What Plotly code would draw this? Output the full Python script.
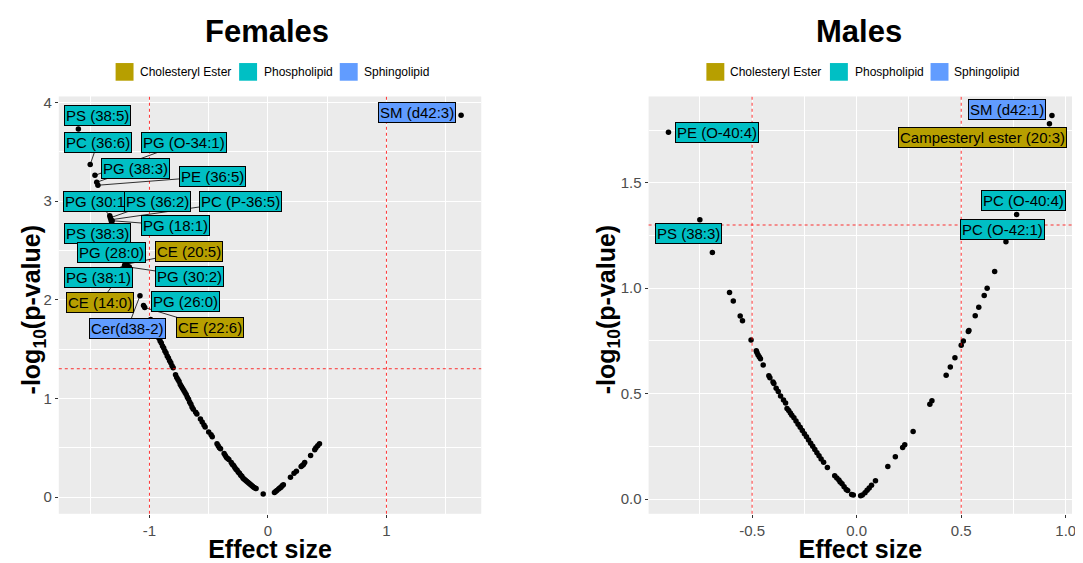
import plotly.graph_objects as go

# ---------------- data ----------------
classes = ["Cholesteryl Ester", "Phospholipid", "Sphingolipid"]
class_colors = ["#B79F00", "#00BFC4", "#619CFF"]

# Females - unlabeled points
fem_x = [-0.99, -0.97, -0.955, -0.94, -0.93, -0.92, -0.91, -0.90, -0.89, -0.88, -0.87, -0.86,
         -0.85, -0.84, -0.83, -0.82, -0.81, -0.80, -0.78, -0.77, -0.76, -0.75, -0.74, -0.73,
         -0.72, -0.71, -0.70, -0.69, -0.68, -0.67, -0.66, -0.65, -0.64, -0.63, -0.61, -0.60,
         -0.57, -0.555, -0.54, -0.53, -0.50, -0.48, -0.47, -0.43, -0.42, -0.41, -0.40, -0.37,
         -0.36, -0.35, -0.34, -0.33, -0.31, -0.30, -0.29, -0.28, -0.27, -0.26, -0.25, -0.24,
         -0.23, -0.22, -0.21, -0.20, -0.19, -0.18, -0.17, -0.16, -0.15, -0.14, -0.13, -0.12,
         -0.11, -0.10, -0.04,
         0.055, 0.065, 0.075, 0.09, 0.10, 0.11, 0.12, 0.13, 0.19, 0.22, 0.24, 0.28, 0.29,
         0.30, 0.31, 0.36, 0.395, 0.405, 0.42, 0.435]
fem_y = [1.80, 1.73, 1.70, 1.67, 1.64, 1.61, 1.58, 1.56, 1.53, 1.51, 1.48, 1.46,
         1.43, 1.41, 1.38, 1.36, 1.33, 1.31, 1.24, 1.21, 1.19, 1.17, 1.14, 1.12,
         1.10, 1.08, 1.06, 1.04, 1.01, 0.99, 0.96, 0.94, 0.91, 0.89, 0.86, 0.84,
         0.79, 0.76, 0.73, 0.71, 0.66, 0.63, 0.61, 0.54, 0.52, 0.50, 0.49, 0.44,
         0.42, 0.40, 0.39, 0.38, 0.35, 0.33, 0.32, 0.30, 0.28, 0.27, 0.25, 0.24,
         0.22, 0.21, 0.19, 0.18, 0.17, 0.16, 0.15, 0.14, 0.13, 0.12, 0.11, 0.10,
         0.09, 0.085, 0.03,
         0.045, 0.055, 0.065, 0.08, 0.09, 0.10, 0.115, 0.125, 0.20, 0.24, 0.26, 0.31, 0.32,
         0.33, 0.35, 0.42, 0.48, 0.50, 0.52, 0.54]

# Females - labeled points
fem_lab_names = ["PS (38:5)", "PC (36:6)", "PG (O-34:1)", "PG (38:3)", "PE (36:5)",
                 "PG (30:1)", "PS (36:2)", "PC (P-36:5)", "PS (38:3)", "PG (18:1)",
                 "PG (28:0)", "CE (20:5)", "PG (38:1)", "PG (30:2)", "CE (14:0)",
                 "PG (26:0)", "CE (22:6)", "Cer(d38-2)", "SM (d42:3)"]
fem_lab_x = [-1.60, -1.50, -1.46, -1.445, -1.435, -1.335, -1.33, -1.325, -1.32, -1.315,
             -1.20, -1.19, -1.21, -1.17, -1.22, -1.05, -1.04, -1.08, 1.63]
fem_lab_y = [3.73, 3.37, 3.26, 3.19, 3.16, 2.85, 2.83, 2.81, 2.79, 2.80,
             2.37, 2.36, 2.35, 2.33, 2.30, 1.94, 1.92, 2.04, 3.87]
fem_lab_class = [1, 1, 1, 1, 1, 1, 1, 1, 1, 1, 1, 0, 1, 1, 0, 1, 0, 2, 2]

# Males - unlabeled points
mal_x = [-0.69, -0.608, -0.59, -0.557, -0.546, -0.505, -0.48, -0.477, -0.472, -0.466, -0.46,
         -0.447, -0.42, -0.415, -0.40, -0.396, -0.385, -0.375, -0.364, -0.35, -0.34, -0.333,
         -0.325, -0.317, -0.31, -0.30, -0.29, -0.28, -0.27, -0.26, -0.25, -0.24, -0.23, -0.22,
         -0.21, -0.20, -0.19, -0.18, -0.17, -0.158, -0.14, -0.105, -0.095, -0.085, -0.079,
         -0.07, -0.06, -0.05, -0.043, -0.024, -0.016,
         0.019, 0.027, 0.04, 0.05, 0.06, 0.071, 0.09, 0.149, 0.185, 0.22, 0.23, 0.27, 0.35,
         0.36, 0.428, 0.448, 0.47, 0.50, 0.51, 0.534, 0.537, 0.567, 0.584, 0.61, 0.624, 0.66]
mal_y = [1.17, 0.98, 0.94, 0.868, 0.846, 0.755, 0.704, 0.695, 0.685, 0.675, 0.665,
         0.636, 0.585, 0.575, 0.555, 0.548, 0.525, 0.51, 0.489, 0.47, 0.455, 0.43,
         0.42, 0.408, 0.397, 0.385, 0.37, 0.355, 0.34, 0.325, 0.31, 0.295, 0.28, 0.265,
         0.25, 0.235, 0.22, 0.205, 0.19, 0.175, 0.15, 0.11, 0.10, 0.09, 0.081,
         0.072, 0.058, 0.045, 0.04, 0.022, 0.019,
         0.015, 0.019, 0.03, 0.042, 0.052, 0.065, 0.087, 0.154, 0.20, 0.245, 0.257, 0.32, 0.45,
         0.466, 0.587, 0.626, 0.67, 0.73, 0.75, 0.795, 0.80, 0.87, 0.91, 0.966, 1.00, 1.08]

# Males - labeled points
mal_lab_names = ["PE (O-40:4)", "PS (38:3)", "SM (d42:1)", "Campesteryl ester (20:3)",
                 "PC (O-40:4)", "PC (O-42:1)"]
mal_lab_x = [-0.90, -0.75, 0.934, 0.922, 0.765, 0.714]
mal_lab_y = [1.74, 1.325, 1.82, 1.78, 1.35, 1.22]
mal_lab_class = [1, 1, 2, 0, 1, 1]

# ---------------- layout (label box centres in data units, segment flags, page geometry) ----------------
fem_label_pos = [(-1.437, 3.87), (-1.437, 3.59), (-0.71, 3.59), (-1.118, 3.33), (-0.47, 3.25),
                 (-1.44, 3.0), (-0.93, 3.0), (-0.23, 3.0), (-1.437, 2.67), (-0.777, 2.75),
                 (-1.32, 2.48), (-0.668, 2.49), (-1.43, 2.22), (-0.66, 2.24), (-1.416, 1.97),
                 (-0.70, 1.98), (-0.49, 1.72), (-1.185, 1.71), (1.26, 3.90)]
fem_seg = [0, 1, 1, 1, 1, 1, 1, 1, 1, 1, 1, 1, 1, 1, 1, 0, 1, 1, 0]
mal_label_pos = [(-0.67, 1.74), (-0.803, 1.26), (0.72, 1.85), (0.603, 1.716),
                 (0.80, 1.414), (0.698, 1.28)]
mal_seg = [0, 0, 0, 0, 0, 0]

OFF = 8          # default page body margin
W, H = 1083 - OFF, 563 - OFF


def pxx(p):
    return (p - OFF) / W


def pxy(p):
    return 1 - (p - OFF) / H


FONT = "Liberation Sans, Arial, sans-serif"
BG = "#EBEBEB"

fig = go.Figure()

fig.add_trace(go.Scatter(x=fem_x + fem_lab_x, y=fem_y + fem_lab_y, mode="markers",
                         marker=dict(color="black", size=5.5), showlegend=False,
                         xaxis="x", yaxis="y", hoverinfo="skip"))
fig.add_trace(go.Scatter(x=mal_x + mal_lab_x, y=mal_y + mal_lab_y, mode="markers",
                         marker=dict(color="black", size=5.5), showlegend=False,
                         xaxis="x2", yaxis="y2", hoverinfo="skip"))

annotations = []
shapes = []

# reference lines
for xr, yr, vx in [("x", "y", [-1, 1]), ("x2", "y2", [-0.5, 0.5])]:
    for v in vx:
        shapes.append(dict(type="line", xref=xr, yref=yr + " domain", x0=v, x1=v, y0=0, y1=1,
                           line=dict(color="rgba(255,0,0,0.8)", width=1, dash="dot"), layer="above"))
    shapes.append(dict(type="line", xref=xr + " domain", yref=yr, x0=0, x1=1, y0=1.3, y1=1.3,
                       line=dict(color="rgba(255,0,0,0.8)", width=1, dash="dot"), layer="above"))

# point labels: connector segments (shapes) under the boxes (annotations)
for names, lx, ly, lc, pos, seg, xr, yr in [
        (fem_lab_names, fem_lab_x, fem_lab_y, fem_lab_class, fem_label_pos, fem_seg, "x", "y"),
        (mal_lab_names, mal_lab_x, mal_lab_y, mal_lab_class, mal_label_pos, mal_seg, "x2", "y2")]:
    for n, px, py, c, (ax, ay), s in zip(names, lx, ly, lc, pos, seg):
        if s:
            shapes.append(dict(type="line", xref=xr, yref=yr, x0=px, y0=py, x1=ax, y1=ay,
                               line=dict(color="black", width=0.8), layer="above"))
        annotations.append(dict(
            text=n, x=ax, y=ay, xref=xr, yref=yr, showarrow=False,
            xanchor="center", yanchor="middle",
            bgcolor=class_colors[c], bordercolor="black", borderwidth=1, borderpad=1,
            font=dict(family=FONT, size=15, color="black")))

# legends (one per panel): square key + label
legend_sq_left = [116, 240, 341]
legend_txt_left = [140, 265, 365]
for shift in [0, 593]:
    for c, col, sx, tx in zip(classes, class_colors, legend_sq_left, legend_txt_left):
        shapes.append(dict(type="rect", xref="paper", yref="paper",
                           x0=pxx(sx + shift), x1=pxx(sx + shift + 18),
                           y0=pxy(79), y1=pxy(61), fillcolor=col, line=dict(width=0)))
        annotations.append(dict(text=c, x=pxx(tx + shift - 2), y=pxy(70), xref="paper", yref="paper",
                                showarrow=False, xanchor="left", yanchor="middle",
                                font=dict(family=FONT, size=12, color="black")))

# panel titles
for t, cx in [("Females", 268), ("Males", 862)]:
    annotations.append(dict(text="<b>%s</b>" % t, x=pxx(cx), y=pxy(29), xref="paper", yref="paper",
                            showarrow=False, font=dict(family=FONT, size=31, color="black"),
                            xanchor="center", yanchor="middle"))

# y-axis titles
for cx in [33, 610]:
    annotations.append(dict(text="<b>-log<sub>10</sub>(p-value)</b>", x=pxx(cx), y=pxy(312),
                            xref="paper", yref="paper", showarrow=False, textangle=-90,
                            xanchor="center", yanchor="middle",
                            font=dict(family=FONT, size=25, color="black")))

tickfont = dict(family=FONT, size=15, color="#4D4D4D")
titlefont = dict(family=FONT, size=25, color="black")

common_axis = dict(showgrid=True, gridcolor="white", gridwidth=1.1, zeroline=False,
                   ticks="outside", ticklen=3, tickcolor="#333333", tickwidth=1,
                   tickfont=tickfont, showline=False)

yd = [pxy(520), pxy(95)]

fig.update_layout(
    width=W, height=H,
    margin=dict(l=0, r=0, t=0, b=0),
    paper_bgcolor="white", plot_bgcolor=BG,
    font=dict(family=FONT),
    showlegend=False,
    xaxis=dict(domain=[pxx(59), pxx(483)], range=[-1.765, 1.80], anchor="y",
               tickvals=[-1, 0, 1], ticktext=["-1", "0", "1"],
               minor=dict(dtick=0.5, tick0=0, showgrid=True, gridcolor="white", gridwidth=0.5),
               title=dict(text="<b>Effect size</b>", font=titlefont, standoff=7), **common_axis),
    yaxis=dict(domain=yd, range=[-0.17, 4.06], anchor="x",
               tickvals=[0, 1, 2, 3, 4], ticktext=["0", "1", "2", "3", "4"],
               minor=dict(dtick=0.5, tick0=0, showgrid=True, gridcolor="white", gridwidth=0.5),
               **common_axis),
    xaxis2=dict(domain=[pxx(651), pxx(1076)], range=[-0.995, 1.03], anchor="y2",
                tickvals=[-0.5, 0, 0.5, 1.0], ticktext=["-0.5", "0.0", "0.5", "1.0"],
                minor=dict(dtick=0.25, tick0=0, showgrid=True, gridcolor="white", gridwidth=0.5),
                title=dict(text="<b>Effect size</b>", font=titlefont, standoff=7), **common_axis),
    yaxis2=dict(domain=yd, range=[-0.07, 1.91], anchor="x2",
                tickvals=[0, 0.5, 1.0, 1.5], ticktext=["0.0", "0.5", "1.0", "1.5"],
                minor=dict(dtick=0.25, tick0=0, showgrid=True, gridcolor="white", gridwidth=0.5),
                **common_axis),
    annotations=annotations,
    shapes=shapes,
)

fig.write_html("out.html", config={"displayModeBar": False})
